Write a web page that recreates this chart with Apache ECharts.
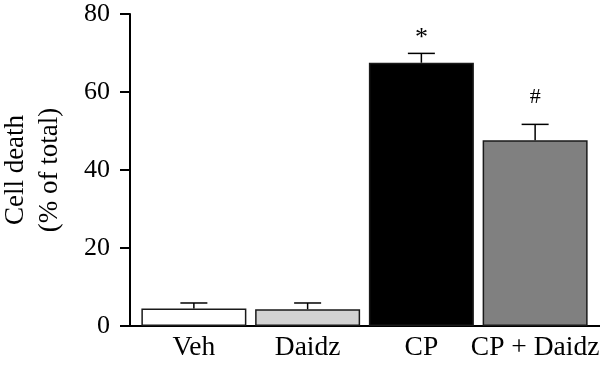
<!DOCTYPE html>
<html><head><meta charset="utf-8">
<script src="https://cdn.jsdelivr.net/npm/echarts@6/dist/echarts.min.js"></script>
<style>html,body{margin:0;padding:0;background:#fff}#c{width:600px;height:366px}</style>
</head><body><div id="c"></div>
<script>
var categories = ['Veh', 'Daidz', 'CP', 'CP + Daidz'];
var values = [4.5, 4.3, 67.5, 47.6];
var errors = [1.4, 1.6, 2.4, 4.1];
var marks = ['', '', '*', '#'];
var colors = ['#ffffff', '#d3d3d3', '#000000', '#808080'];
var yTicks = [0, 20, 40, 60, 80];

var FONT = '"Liberation Serif", "Times New Roman", serif';
var chart = echarts.init(document.getElementById('c'), null, {renderer: 'canvas'});
var option = {
  animation: false,
  grid: [
    {left: 130, right: 0, top: 14, bottom: 40, outerBoundsMode: 'none', containLabel: false},
    {left: 137, right: 8, top: 14, bottom: 40, outerBoundsMode: 'none', containLabel: false}
  ],
  xAxis: [
    {gridIndex: 0, type: 'category', data: categories,
     axisLine: {lineStyle: {color: '#000', width: 2}}, axisTick: {show: false}, axisLabel: {show: false}},
    {gridIndex: 1, type: 'category', data: categories,
     axisLine: {show: false}, axisTick: {show: false},
     axisLabel: {color: '#000', fontFamily: FONT, fontSize: 27.5, margin: 8, interval: 0, hideOverlap: false}}
  ],
  yAxis: [
    {gridIndex: 0, type: 'value', min: yTicks[0], max: yTicks[yTicks.length - 1], interval: 20,
     splitLine: {show: false},
     axisLine: {show: true, lineStyle: {color: '#000', width: 2}},
     axisTick: {show: true, length: 10, lineStyle: {color: '#000', width: 2}},
     axisLabel: {color: '#000', fontFamily: FONT, fontSize: 26, margin: 20},
     name: 'Cell death\n(% of total)', nameLocation: 'middle', nameRotate: 90, nameGap: 63,
     nameTextStyle: {color: '#000', fontFamily: FONT, fontSize: 27, lineHeight: 34}},
    {gridIndex: 1, type: 'value', min: 0, max: 80, show: false}
  ],
  series: [
    {type: 'bar', xAxisIndex: 1, yAxisIndex: 1, barWidth: 105,
     data: values.map(function (v, i) {
       return {value: v, itemStyle: {color: colors[i], borderColor: '#1a1a1a', borderWidth: 1.5}};
     }), z: 2},
    {type: 'custom', xAxisIndex: 1, yAxisIndex: 1, z: 3,
     data: values.map(function (v, i) { return [i, v, v + errors[i], marks[i]]; }),
     renderItem: function (params, api) {
       var i = api.value(0);
       var base = api.coord([i, api.value(1)]);
       var top = api.coord([i, api.value(2)]);
       var hw = 13.5;
       var children = [
         {type: 'line', shape: {x1: base[0], y1: base[1], x2: top[0], y2: top[1]}, style: {stroke: '#000', lineWidth: 1.5}},
         {type: 'line', shape: {x1: top[0] - hw, y1: top[1], x2: top[0] + hw, y2: top[1]}, style: {stroke: '#000', lineWidth: 1.5}}
       ];
       var m = marks[params.dataIndex];
       if (m) {
         children.push({type: 'text', style: {text: m, x: top[0], y: top[1] - (m === '*' ? 2 : 16), textAlign: 'center', textVerticalAlign: 'bottom',
           font: (m === '*' ? '26px ' : '22px ') + FONT, fill: '#000'}});
       }
       return {type: 'group', children: children};
     }}
  ]
};
chart.setOption(option);
</script></body></html>
